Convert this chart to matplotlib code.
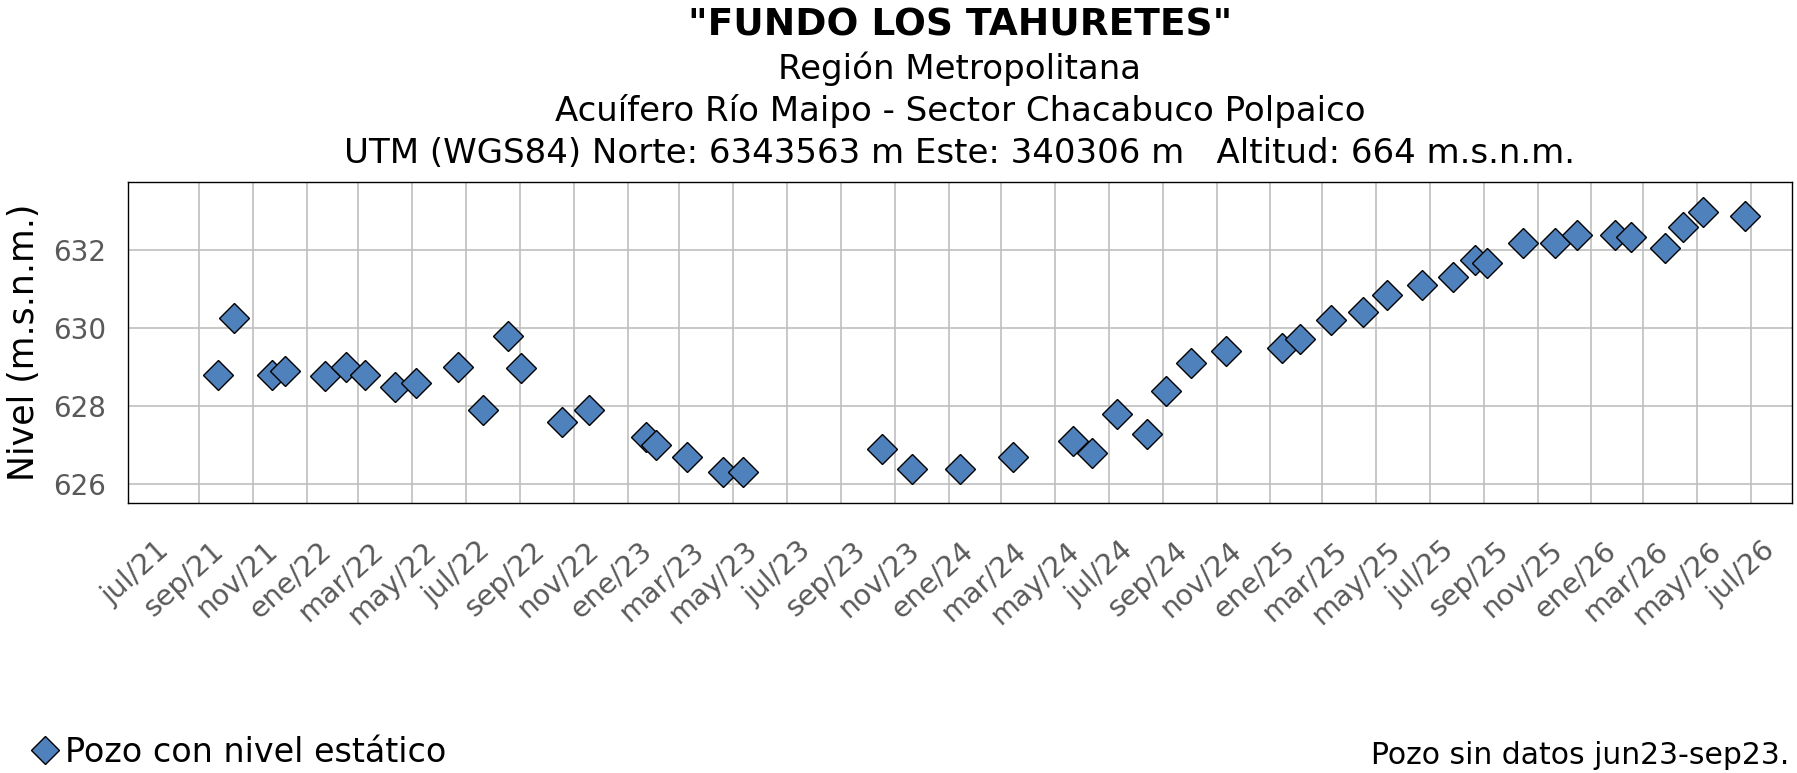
import matplotlib
matplotlib.use('Agg')
import matplotlib.pyplot as plt
import matplotlib.transforms as mtransforms
import pandas as pd

# mediciones de nivel estatico
fechas = ['2021-09-22', '2021-10-11', '2021-11-23', '2021-12-08', '2022-01-22', '2022-02-15',
          '2022-03-08', '2022-04-12', '2022-05-05', '2022-06-22', '2022-07-21', '2022-08-18',
          '2022-09-02', '2022-10-18', '2022-11-18', '2023-01-22', '2023-02-02', '2023-03-10',
          '2023-04-20', '2023-05-12', '2023-10-17', '2023-11-20', '2024-01-14', '2024-03-14',
          '2024-05-21', '2024-06-12', '2024-07-11', '2024-08-14', '2024-09-04', '2024-10-03',
          '2024-11-11', '2025-01-14', '2025-02-04', '2025-03-11', '2025-04-16', '2025-05-14',
          '2025-06-22', '2025-07-27', '2025-08-21', '2025-09-04', '2025-10-15', '2025-11-20',
          '2025-12-16', '2026-01-28', '2026-02-15', '2026-03-26', '2026-04-15', '2026-05-08',
          '2026-06-25']
nivel = [628.80, 630.26, 628.80, 628.91, 628.77, 629.01, 628.80, 628.50, 628.60, 629.01,
         627.90, 629.80, 628.98, 627.60, 627.90, 627.21, 627.00, 626.70, 626.31, 626.31,
         626.90, 626.39, 626.39, 626.70, 627.10, 626.80, 627.80, 627.30, 628.40, 629.10,
         629.41, 629.50, 629.71, 630.21, 630.40, 630.84, 631.10, 631.30, 631.74, 631.68,
         632.19, 632.19, 632.39, 632.39, 632.34, 632.05, 632.59, 632.98, 632.86]

meses = ['ene', 'feb', 'mar', 'abr', 'may', 'jun', 'jul', 'ago', 'sep', 'oct', 'nov', 'dic']
ticks_x = pd.date_range('2021-07-01', '2026-07-01', freq='2MS')
etiquetas_x = ['%s/%s' % (meses[d.month - 1], str(d.year)[2:]) for d in ticks_x]
ticks_y = [626, 628, 630, 632]

titulo = '"FUNDO LOS TAHURETES"'
subtitulos = ['Región Metropolitana',
              'Acuífero Río Maipo - Sector Chacabuco Polpaico',
              'UTM (WGS84) Norte: 6343563 m Este: 340306 m   Altitud: 664 m.s.n.m.']

W, H = 1797, 773
fig = plt.figure(figsize=(W / 100, H / 100), dpi=100)
ax = fig.add_axes([128 / W, 1 - 503 / H, (1792 - 128) / W, (503 - 181.7) / H])

ax.plot(pd.to_datetime(fechas), nivel, linestyle='none', marker='D', ms=15.5,
        mfc='#4F81BD', mec='black', mew=1.0, zorder=3, label='Pozo con nivel estático')

ax.set_xlim(pd.Timestamp('2021-06-12'), pd.Timestamp('2026-08-17'))
ax.set_ylim(625.52, 633.75)
ax.set_yticks(ticks_y)
ax.set_xticks(ticks_x)
ax.tick_params(axis='x', length=0, pad=24, labelsize=20.5, labelcolor='#595959')
ax.tick_params(axis='y', length=0, pad=16, labelsize=20, labelcolor='#595959')
ax.set_xticklabels(etiquetas_x, rotation=42, ha='right', va='top', rotation_mode='anchor')
desplaza = mtransforms.ScaledTranslation(0.11, 0, fig.dpi_scale_trans)
for lab in ax.get_xticklabels():
    lab.set_transform(lab.get_transform() + desplaza)
ax.grid(True, color='#BFBFBF', lw=1.2)
ax.set_axisbelow(True)
ax.xaxis.get_major_ticks()[0].gridline.set_visible(False)
for s in ax.spines.values():
    s.set_color('black')
    s.set_linewidth(1.0)

ax.set_ylabel('Nivel (m.s.n.m.)', fontsize=25)
ax.yaxis.set_label_coords(-0.052, 0.5)

xc = 960 / W
fig.text(xc, 1 - 36 / H, titulo, ha='center', va='baseline', fontsize=27, fontweight='bold')
for i, t in enumerate(subtitulos):
    fig.text(xc, 1 - (79 + 42 * i) / H, t, ha='center', va='baseline', fontsize=24.5)

fig.legend(loc='center left', bbox_to_anchor=(28 / W, 1 - 752 / H), frameon=False,
           fontsize=24, handlelength=1.0, handletextpad=0.1, borderpad=0, borderaxespad=0,
           markerscale=0.9)
fig.text(1789 / W, 1 - 764 / H, 'Pozo sin datos jun23-sep23.', ha='right', va='baseline',
         fontsize=21.5)

fig.savefig('out.png', dpi=100)
